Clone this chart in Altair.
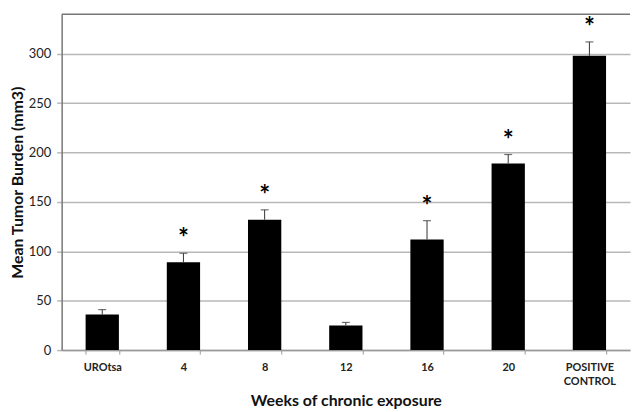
import altair as alt
import pandas as pd

categories = ["UROtsa", "4", "8", "12", "16", "20", "POSITIVE CONTROL"]
means = [36, 89, 132, 25, 112, 189, 298]
errors = [5, 9, 10, 3, 19, 9, 14]
significant = [False, True, True, False, True, True, True]
y_ticks = [0, 50, 100, 150, 200, 250, 300]

df = pd.DataFrame({"cat": categories, "mean": means, "err": errors, "sig": significant})
df["top"] = df["mean"] + df["err"]

FONT = "Lato"

x = alt.X(
    "cat:N",
    sort=categories,
    scale=alt.Scale(paddingInner=0.59, paddingOuter=0.295),
    axis=alt.Axis(
        title="Weeks of chronic exposure",
        labelAngle=0,
        labelExpr="split(datum.label, ' ')",
        labelFont=FONT,
        labelFontSize=11,
        labelFontWeight="bold",
        labelColor="#222",
        labelPadding=8,
        labelLineHeight=14,
        tickBand="extent",
        tickSize=4,
        tickColor="#999",
        domainColor="#999",
        domainWidth=1.5,
        titleFont=FONT,
        titleFontSize=16,
        titleFontWeight="bold",
        titleColor="#111",
        titlePadding=6,
    ),
)

y_scale = alt.Scale(domain=[0, 340], nice=False)
y_axis = alt.Axis(
    title="Mean Tumor Burden (mm3)",
    values=y_ticks,
    grid=True,
    gridColor="#b8b8b8",
    gridWidth=1.5,
    ticks=True,
    tickSize=5,
    tickColor="#b8b8b8",
    tickWidth=1.5,
    domainColor="#777",
    domainWidth=1.5,
    labelFont=FONT,
    labelFontSize=13,
    labelColor="#222",
    labelPadding=6,
    titleFont=FONT,
    titleFontSize=16,
    titleFontWeight="bold",
    titleColor="#111",
    titlePadding=3,
)

base = alt.Chart(df)

bars = base.mark_bar(color="black").encode(
    x=x,
    y=alt.Y("mean:Q", scale=y_scale, axis=y_axis),
)

err_rule = base.mark_rule(color="#333", strokeWidth=1).encode(
    x=alt.X("cat:N", sort=categories),
    y=alt.Y("mean:Q"),
    y2="top:Q",
)

caps = base.mark_tick(color="#333", size=8, thickness=1.2, orient="horizontal").encode(
    x=alt.X("cat:N", sort=categories),
    y=alt.Y("top:Q"),
)

stars = base.transform_filter("datum.sig").mark_text(
    text="*", font=FONT, fontSize=26, fontWeight="bold", color="black", dy=-14, baseline="middle"
).encode(
    x=alt.X("cat:N", sort=categories),
    y=alt.Y("top:Q"),
)

top_line = alt.Chart(pd.DataFrame({"v": [340]})).mark_rule(color="#777", strokeWidth=1.5).encode(
    y=alt.Y("v:Q")
)

chart = (
    alt.layer(bars, err_rule, caps, stars, top_line)
    .properties(width=572, height=338, padding={"left": 1, "top": 4, "right": 0, "bottom": 0})
    .configure_view(stroke=None)
)

chart.save("out.html", embed_options={"renderer": "svg", "actions": False})
